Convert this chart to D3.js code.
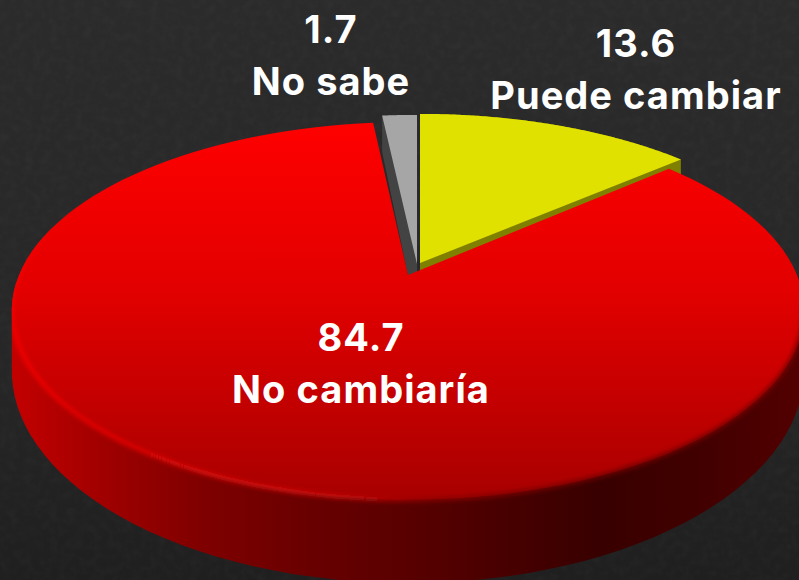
<!DOCTYPE html>
<html><head><meta charset="utf-8">
<style>html,body{margin:0;padding:0;background:#262627;overflow:hidden}svg{display:block}</style>
<script src="https://cdn.jsdelivr.net/npm/d3@7"></script></head>
<body><svg id="c" width="799" height="580"></svg>
<script>
const categories = ["Puede cambiar", "No cambiaría", "No sabe"];
const values = [13.6, 84.7, 1.7];
const faceColors = ["#e1e100", "url(#faceRed)", "#a6a6a6"];
const wallColors = ["#808000", "url(#wallRed)", "#434343"];

// layout
const W = 799, H = 580;
const apex = [[420, 263], [408, 275], [417, 264]];
const vScale = [0.975, 1, 0.975];
const A = 389, B = 182, K = 0.19, DROP = 55, BB = 205;
const labelPos = [[636, 57, 109], [361, 351, 403], [331, 43, 95]];

const svg = d3.select("#c");
const defs = svg.append("defs");
function grad(id, attrs, stops) {
  const g = defs.append("linearGradient").attr("id", id).attr("gradientUnits", "userSpaceOnUse");
  Object.entries(attrs).forEach(([k, v]) => g.attr(k, v));
  stops.forEach(s => g.append("stop").attr("offset", s[0]).attr("stop-color", s[1]).attr("stop-opacity", s[2] ?? 1));
}
grad("bg", {x1:0,y1:0,x2:0,y2:H}, [[0,"#2b2b2c"],[0.6,"#272728"],[1,"#1f1f20"]]);
grad("faceRed", {x1:0,y1:120,x2:0,y2:500}, [[0,"#ff0000"],[0.45,"#e20000"],[1,"#a80000"]]);
grad("wallRed", {x1:0,y1:0,x2:W,y2:0}, [[0,"#c80000"],[0.13,"#a00000"],[0.25,"#800000"],[0.38,"#6a0000"],[0.56,"#520000"],[0.75,"#380000"],[0.88,"#420000"],[1,"#520000"]]);
grad("rim", {x1:0,y1:0,x2:W,y2:0}, [[0,"#f80000"],[0.1,"#e80000"],[0.3,"#d81010"],[0.42,"#c81010"],[0.55,"#8a0000"],[0.75,"#700000"],[1,"#780000"]]);
const nf = defs.append("filter").attr("id","tex").attr("x",0).attr("y",0).attr("width","100%").attr("height","100%");
nf.append("feTurbulence").attr("type","fractalNoise").attr("baseFrequency",0.12).attr("numOctaves",2).attr("seed",4);
nf.append("feColorMatrix").attr("values","0 0 0 0 1  0 0 0 0 1  0 0 0 0 1  0.25 0.25 0 0 -0.2");
defs.append("filter").attr("id","soft").attr("x","-5%").attr("y","-5%").attr("width","110%").attr("height","110%")
  .append("feGaussianBlur").attr("stdDeviation",2);

svg.append("rect").attr("width",W).attr("height",H).attr("fill","url(#bg)");
svg.append("rect").attr("width",W).attr("height",H).attr("filter","url(#tex)").attr("opacity",0.12);

// Perspective mapping of pie angle onto the tilted disc
function proj(theta, i, bottom) {
  const u = Math.sin(theta), v = Math.cos(theta), w = 1 + K * v;
  return [apex[i][0] + A * u / w,
          apex[i][1] + (bottom ? DROP : 0) - (bottom ? BB : B) * vScale[i] * v / w];
}
const arcs = d3.pie().sort(null).value(d => d)(values);
const samples = (a0, a1) => d3.range(0, 121).map(j => a0 + (a1 - a0) * j / 120);
const line = d3.line();
const closed = pts => line(pts) + "Z";

// Walls and faces of the two small slices, then the big one
[0, 2].forEach(i => {
  const s = samples(arcs[i].startAngle, arcs[i].endAngle);
  const top = s.map(t => proj(t, i, false)), bot = s.map(t => proj(t, i, true));
  const hull = d3.polygonHull([...top, ...bot, apex[i], [apex[i][0], apex[i][1] + DROP]]);
  svg.append("path").attr("d", closed(hull)).attr("fill", wallColors[i]);
  svg.append("path").attr("d", closed([apex[i], ...top])).attr("fill", faceColors[i]);
});

// Big slice: only the front half of its rim has a visible wall
const r = arcs[1], rs = samples(r.startAngle, r.endAngle);
const front = rs.filter(t => Math.cos(t) <= 0);
const wallPts = [...front.map(t => proj(t, 1, false)), ...front.map(t => proj(t, 1, true))];
const wallD = closed(d3.polygonHull(wallPts));
const faceD = closed([apex[1], ...rs.map(t => proj(t, 1, false))]);
const clip = defs.append("clipPath").attr("id","discClip");
clip.append("path").attr("d", wallD);
clip.append("path").attr("d", faceD);
svg.append("path").attr("d", wallD).attr("fill", wallColors[1]);
svg.append("path").attr("d", faceD).attr("fill", faceColors[1]);
const rimArc = rs.filter(t => t > Math.PI ? Math.cos(t) < 0.3 : Math.cos(t) < -0.15).map(t => proj(t, 1, false));
svg.append("g").attr("clip-path","url(#discClip)").append("path")
   .attr("d", line(rimArc)).attr("fill","none").attr("stroke","url(#rim)")
   .attr("stroke-width",4).attr("filter","url(#soft)");

// Labels
categories.forEach((c, i) => {
  const g = svg.append("g").attr("fill","#fff").attr("font-family","Inter,Roboto,sans-serif")
     .attr("font-weight",700).attr("font-size",38).attr("letter-spacing",1.05).attr("text-anchor","middle");
  g.append("text").attr("x",labelPos[i][0]).attr("y",labelPos[i][1]).text(values[i].toFixed(1));
  g.append("text").attr("x",labelPos[i][0]).attr("y",labelPos[i][2]).text(c);
});
</script></body></html>
